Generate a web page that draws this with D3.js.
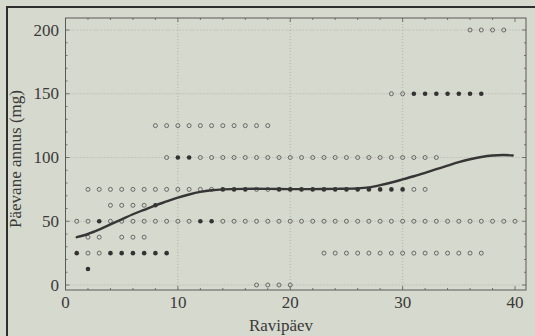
<!DOCTYPE html>
<html>
<head>
<meta charset="utf-8" />
<title>Päevane annus</title>
<script src="https://d3js.org/d3.v7.min.js"></script>
<style>
  html, body { margin: 0; padding: 0; background: #d6d9cd; }
  svg { display: block; }
  text { font-family: "Liberation Serif", "DejaVu Serif", serif; fill: #3a3a3a; }
</style>
</head>
<body>
<div id="the-chart"></div>
<script>
// data: days per dose level, open and filled markers
var xTicks = [0, 10, 20, 30, 40],
    yTicks = [0, 50, 100, 150, 200];

var open200 = [36, 37, 38, 39];
var open150 = [29, 30],
    filled150 = [31, 32, 33, 34, 35, 36, 37];
var open125 = [8, 9, 10, 11, 12, 13, 14, 15, 16, 17, 18];
var open100 = [9, 12, 13, 14, 15, 16, 17, 18, 19, 20, 21, 22, 23, 24, 25, 26, 27, 28, 29, 30, 31, 32, 33],
    filled100 = [10, 11];
var open75 = [2, 3, 4, 5, 6, 7, 8, 9, 10, 11, 12, 13, 17, 18, 31, 32],
    filled75 = [14, 15, 16, 19, 20, 21, 22, 23, 24, 25, 26, 27, 28, 29, 30];
var open62 = [4, 5, 6, 7],
    filled62 = [8];
var open50 = [1, 2, 4, 5, 6, 7, 8, 9, 10, 11, 14, 15, 16, 17, 18, 19, 20, 21, 22, 23, 24, 25, 26, 27, 28, 29, 30, 31, 32, 33, 34, 35, 36, 37, 38, 39, 40],
    filled50 = [3, 12, 13];
var open37 = [2, 3, 5, 6, 7];
var open25 = [2, 3, 23, 24, 25, 26, 27, 28, 29, 30, 31, 32, 33, 34, 35, 36, 37],
    filled25 = [1, 4, 5, 6, 7, 8, 9];
var filled12 = [2];
var open0 = [17, 18, 19, 20];

var curveDays = [1, 2, 3, 4, 5, 6, 7, 8, 9, 10, 11, 12, 13, 14, 16, 18, 20, 22, 24, 26, 27, 28, 29, 30, 31, 32, 33, 34, 35, 36, 37, 38, 39, 39.8],
    curveDose = [37.5, 40, 43.5, 47.5, 51.5, 55.5, 59, 62.5, 65.5, 68.5, 71, 73, 74.3, 75, 75.4, 75.4, 75.2, 75.2, 75.4, 75.8, 76.6, 78.3, 80.4, 82.8, 85.3, 88, 90.8, 93.6, 96.3, 98.6, 100.4, 101.6, 102, 101.6];

function pts(days, dose) {
    return days.map(function (d) { return [d, dose]; });
}

var openPoints = [].concat(
    pts(open200, 200), pts(open150, 150), pts(open125, 125), pts(open100, 100),
    pts(open75, 75), pts(open62, 62.5), pts(open50, 50), pts(open37, 37.5),
    pts(open25, 25), pts(open0, 0));
var filledPoints = [].concat(
    pts(filled150, 150), pts(filled100, 100), pts(filled75, 75), pts(filled62, 62.5),
    pts(filled50, 50), pts(filled25, 25), pts(filled12, 12.5));

var svg = d3.select("#the-chart").append("svg")
    .attr("width", 535)
    .attr("height", 336);

svg.append("rect").attr("width", 535).attr("height", 336).attr("fill", "#d6d9cd");

// outer frame (only top and left sides visible)
svg.append("path")
    .attr("d", "M7,336V7H535")
    .attr("fill", "none")
    .attr("stroke", "#2e2e2e")
    .attr("stroke-width", 2);

var x = d3.scaleLinear().domain([0, 40]).range([65.5, 515]),
    y = d3.scaleLinear().domain([0, 200]).range([285, 30]);

var frame = { left: 65.5, right: 526, top: 18, bottom: 290 };

// dotted grid
var grid = svg.append("g").attr("stroke", "#a6a99e").attr("stroke-width", 0.8)
    .attr("stroke-dasharray", "1,2");
grid.selectAll("line.gx").data(xTicks.slice(1, -1)).enter().append("line")
    .attr("x1", function (d) { return x(d); }).attr("x2", function (d) { return x(d); })
    .attr("y1", frame.top).attr("y2", frame.bottom);
grid.selectAll("line.gy").data(yTicks).enter().append("line")
    .attr("y1", function (d) { return y(d); }).attr("y2", function (d) { return y(d); })
    .attr("x1", frame.left).attr("x2", frame.right);

// frame box
svg.append("rect")
    .attr("x", frame.left).attr("y", frame.top)
    .attr("width", frame.right - frame.left).attr("height", frame.bottom - frame.top)
    .attr("fill", "none").attr("stroke", "#5a5a5a").attr("stroke-width", 1);

// ticks on the frame, pointing inward
var tk = svg.append("g").attr("stroke", "#5a5a5a").attr("stroke-width", 0.8);
var xMinor = d3.range(0, 41, 2), yMinor = d3.range(0, 201, 10);
xMinor.forEach(function (d) {
    var len = d % 10 === 0 ? 4 : 2;
    tk.append("line").attr("x1", x(d)).attr("x2", x(d)).attr("y1", frame.bottom).attr("y2", frame.bottom - len);
    tk.append("line").attr("x1", x(d)).attr("x2", x(d)).attr("y1", frame.top).attr("y2", frame.top + len);
});
yMinor.forEach(function (d) {
    var len = d % 50 === 0 ? 4 : 2;
    tk.append("line").attr("y1", y(d)).attr("y2", y(d)).attr("x1", frame.left).attr("x2", frame.left + len);
    tk.append("line").attr("y1", y(d)).attr("y2", y(d)).attr("x1", frame.right).attr("x2", frame.right - len);
});

// tick labels
svg.selectAll("text.xl").data(xTicks).enter().append("text")
    .attr("class", "xl")
    .attr("x", function (d) { return x(d); })
    .attr("y", 308)
    .attr("text-anchor", "middle")
    .style("font-size", "17px")
    .text(function (d) { return d; });
svg.selectAll("text.yl").data(yTicks).enter().append("text")
    .attr("class", "yl")
    .attr("x", 59)
    .attr("y", function (d) { return y(d) + 5.5; })
    .attr("text-anchor", "end")
    .style("font-size", "17px")
    .text(function (d) { return d; });

// axis titles
svg.append("text")
    .attr("x", 281).attr("y", 331)
    .attr("text-anchor", "middle")
    .style("font-size", "17px")
    .text("Ravipäev");
svg.append("text")
    .attr("transform", "translate(21,159) rotate(-90)")
    .attr("text-anchor", "middle")
    .style("font-size", "17px")
    .text("Päevane annus (mg)");

// markers
svg.append("g").selectAll("circle.open").data(openPoints).enter().append("circle")
    .attr("class", "open")
    .attr("cx", function (d) { return x(d[0]); })
    .attr("cy", function (d) { return y(d[1]); })
    .attr("r", 2)
    .attr("fill", "none")
    .attr("stroke", "#5c5c5c")
    .attr("stroke-width", 0.9);
svg.append("g").selectAll("circle.filled").data(filledPoints).enter().append("circle")
    .attr("class", "filled")
    .attr("cx", function (d) { return x(d[0]); })
    .attr("cy", function (d) { return y(d[1]); })
    .attr("r", 2.3)
    .attr("fill", "#333");

// fitted curve
var line = d3.line()
    .x(function (d) { return x(d[0]); })
    .y(function (d) { return y(d[1]); })
    .curve(d3.curveCatmullRom);
svg.append("path")
    .datum(curveDays.map(function (d, i) { return [d, curveDose[i]]; }))
    .attr("d", line)
    .attr("fill", "none")
    .attr("stroke", "#363636")
    .attr("stroke-width", 2.4)
    .attr("stroke-linecap", "round");
</script>
</body>
</html>
